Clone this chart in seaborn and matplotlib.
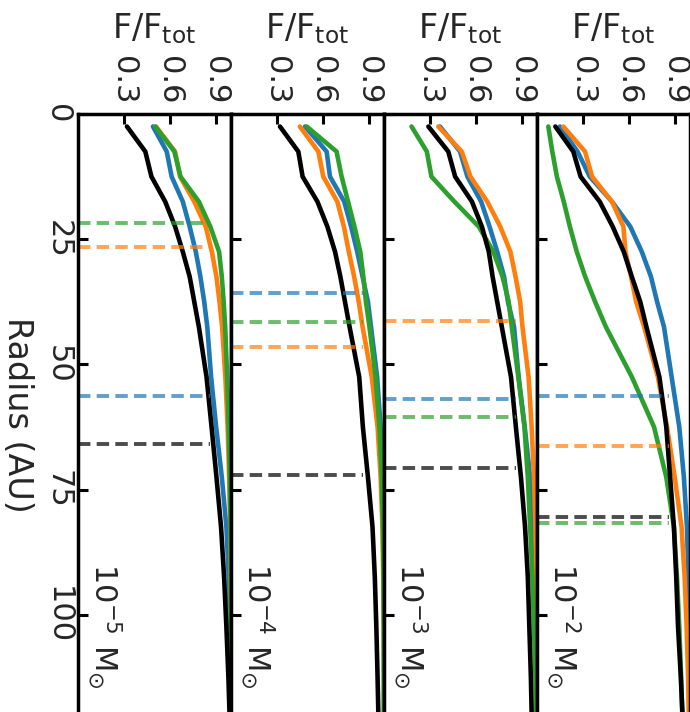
"""
Cumulative flux fraction F/F_tot against radius for four disc masses,
drawn turned on its side (radius runs down the page).
"""

import matplotlib
matplotlib.use("Agg")
import matplotlib.pyplot as plt
import pandas as pd
import seaborn as sns

# radii of the sampled points (AU)
radius = [2.5, 7.5, 12.5, 17.5, 22.5, 27.5, 32.5, 37.5, 42.5,
          52.5, 62.5, 72.5, 82.5, 92.5, 102.5, 112.5, 122.5]

series = ["blue", "orange", "green", "black"]
colors = {"blue": "#1f77b4", "orange": "#ff7f0e", "green": "#2ca02c", "black": "black"}

mass_labels = [r"$10^{-5}\ \mathrm{M}_{\odot}$", r"$10^{-4}\ \mathrm{M}_{\odot}$",
               r"$10^{-3}\ \mathrm{M}_{\odot}$", r"$10^{-2}\ \mathrm{M}_{\odot}$"]

# 1e-5 Msun
e5_blue = [0.49, 0.58, 0.612, 0.685, 0.73, 0.77, 0.80, 0.825, 0.845,
           0.87, 0.903, 0.94, 0.97, 0.985, 0.993, 0.997, 1.0]
e5_orange = [0.51, 0.634, 0.667, 0.76, 0.835, 0.875, 0.905, 0.925, 0.942,
             0.963, 0.978, 0.988, 0.995, 0.998, 1.0, 1.0, 1.0]
e5_green = [0.505, 0.63, 0.67, 0.79, 0.865, 0.922, 0.94, 0.952, 0.962,
            0.975, 0.985, 0.992, 0.997, 1.0, 1.0, 1.0, 1.0]
e5_black = [0.32, 0.44, 0.48, 0.57, 0.635, 0.685, 0.73, 0.76, 0.79,
            0.84, 0.873, 0.905, 0.935, 0.955, 0.97, 0.983, 0.993]

# 1e-4 Msun
e4_blue = [0.484, 0.625, 0.647, 0.74, 0.785, 0.825, 0.86, 0.895, 0.915,
           0.955, 0.978, 0.99, 0.995, 0.998, 1.0, 1.0, 1.0]
e4_orange = [0.45, 0.571, 0.603, 0.695, 0.738, 0.77, 0.805, 0.835, 0.86,
             0.92, 0.958, 0.978, 0.99, 0.995, 0.998, 1.0, 1.0]
e4_green = [0.495, 0.69, 0.723, 0.765, 0.807, 0.845, 0.865, 0.882, 0.905,
            0.945, 0.97, 0.985, 0.993, 0.997, 1.0, 1.0, 1.0]
e4_black = [0.32, 0.44, 0.468, 0.565, 0.63, 0.68, 0.715, 0.745, 0.775,
            0.838, 0.862, 0.895, 0.925, 0.94, 0.95, 0.958, 0.965]

# 1e-3 Msun
e3_blue = [0.366, 0.497, 0.545, 0.635, 0.69, 0.74, 0.785, 0.81, 0.85,
           0.88, 0.92, 0.955, 0.975, 0.988, 0.995, 0.998, 1.0]
e3_orange = [0.355, 0.508, 0.565, 0.675, 0.76, 0.826, 0.86, 0.89, 0.905,
             0.945, 0.965, 0.98, 0.99, 0.995, 0.998, 1.0, 1.0]
e3_green = [0.18, 0.28, 0.31, 0.46, 0.62, 0.715, 0.775, 0.815, 0.835,
            0.878, 0.918, 0.94, 0.955, 0.97, 0.98, 0.99, 0.995]
e3_black = [0.29, 0.42, 0.465, 0.575, 0.64, 0.685, 0.71, 0.74, 0.77,
            0.83, 0.862, 0.895, 0.922, 0.94, 0.95, 0.96, 0.967]

# 1e-2 Msun
e2_blue = [0.15, 0.265, 0.345, 0.49, 0.61, 0.685, 0.745, 0.785, 0.83,
           0.88, 0.93, 0.96, 0.98, 0.99, 0.995, 0.998, 1.0]
e2_orange = [0.172, 0.314, 0.36, 0.49, 0.565, 0.578, 0.615, 0.648, 0.70,
             0.79, 0.85, 0.90, 0.945, 0.965, 0.978, 0.988, 0.993]
e2_green = [0.074, 0.10, 0.13, 0.175, 0.215, 0.26, 0.315, 0.38, 0.45,
            0.62, 0.765, 0.845, 0.895, 0.915, 0.93, 0.942, 0.952]
e2_black = [0.12, 0.237, 0.285, 0.41, 0.495, 0.567, 0.62, 0.675, 0.715,
            0.80, 0.845, 0.87, 0.895, 0.91, 0.922, 0.94, 0.955]

# radius enclosing the flux level, per series (AU)
e5_r90 = [56.4, 26.5, 21.8, 65.9]
e4_r90 = [35.8, 46.6, 41.5, 72.1]
e3_r90 = [56.9, 41.3, 60.4, 70.6]
e2_r90 = [56.4, 66.2, 81.6, 80.5]
r90_flux = 0.86

panels = [
    (mass_labels[0], [e5_blue, e5_orange, e5_green, e5_black], e5_r90),
    (mass_labels[1], [e4_blue, e4_orange, e4_green, e4_black], e4_r90),
    (mass_labels[2], [e3_blue, e3_orange, e3_green, e3_black], e3_r90),
    (mass_labels[3], [e2_blue, e2_orange, e2_green, e2_black], e2_r90),
]


def panel_frame(curves):
    rows = []
    for name, values in zip(series, curves):
        for r, f in zip(radius, values):
            rows.append({"series": name, "radius": r, "flux": f})
    return pd.DataFrame(rows)


sns.set_theme(style="ticks")
plt.rcParams["font.family"] = ["DejaVu Sans"]
plt.rcParams["mathtext.fontset"] = "dejavusans"
plt.rcParams["axes.edgecolor"] = "black"

W, H = 690, 712
fig = plt.figure(figsize=(W / 100, H / 100), dpi=100)

x0, pw = 78, 153          # left edge and width of a panel, px
top, ph = 114, 601        # top edge and height of a panel, px

for i, (label, curves, r90) in enumerate(panels):
    ax = fig.add_axes([(x0 + i * pw) / W, 1 - (top + ph) / H, pw / W, ph / H])
    df = panel_frame(curves)
    sns.lineplot(data=df, x="flux", y="radius", hue="series", hue_order=series,
                 palette=colors, orient="y", estimator=None, sort=True,
                 linewidth=3.3, legend=False, ax=ax)

    # dashed markers at the radius that holds the flux level
    for name, r in zip(series, r90):
        ax.plot([0, r90_flux], [r, r], lw=2.8, dashes=(3.2, 1.6),
                color=colors[name], alpha=0.7)

    ax.set_xlim(0, 1)
    ax.set_ylim(120, 0)
    ax.set_xlabel("")
    ax.set_ylabel("")
    ax.xaxis.tick_top()
    ax.set_xticks([0.3, 0.6, 0.9])
    ax.set_xticklabels(["0.3", "0.6", "0.9"], rotation=270)
    ax.set_yticks([0, 25, 50, 75, 100])
    ax.tick_params(axis="both", direction="in", length=7, width=2.2,
                   labelsize=22, color="black")
    ax.tick_params(axis="x", pad=7)
    ax.tick_params(axis="y", pad=4)
    if i == 0:
        ax.set_yticklabels(["0", "25", "50", "75", "100"], rotation=270, va="center")
    else:
        ax.tick_params(axis="y", labelleft=False)
    for side in ax.spines.values():
        side.set_linewidth(2.5)
        side.set_color("black")

    ax.text(0.176, 102.2, label, rotation=270, ha="center", va="center", fontsize=22)
    fig.text((x0 + i * pw + pw / 2) / W, 1 - 38 / H, r"F/F$_{\mathrm{tot}}$",
             ha="center", va="baseline", fontsize=24)

fig.text(17 / W, 1 - 415 / H, "Radius (AU)", rotation=270,
         ha="center", va="center", fontsize=24)

fig.savefig("out.png", dpi=100)
